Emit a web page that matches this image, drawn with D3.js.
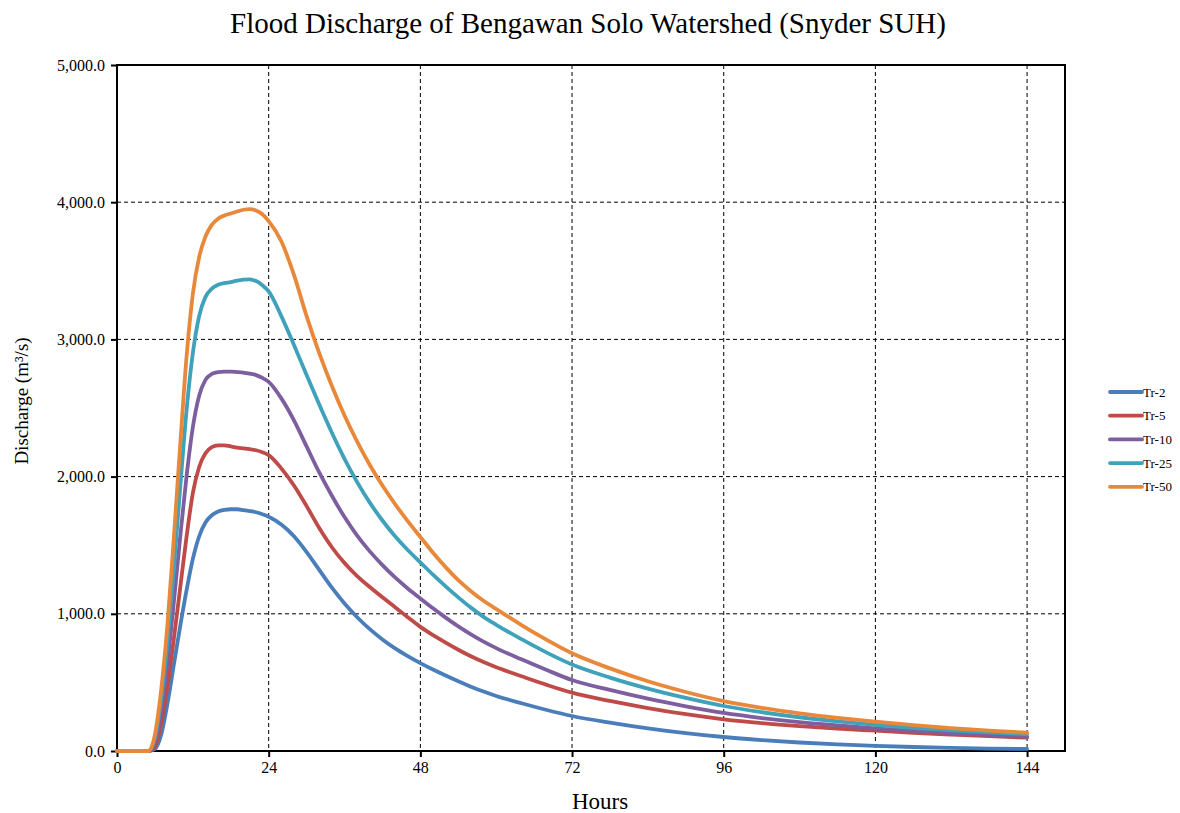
<!DOCTYPE html>
<html>
<head>
<meta charset="utf-8">
<script src="https://cdn.jsdelivr.net/npm/d3@7"></script>
<style>
  html, body { margin: 0; padding: 0; background: #fff; }
  svg { display: block; font-family: "Liberation Serif", "Times New Roman", serif; }
</style>
</head>
<body>
<svg id="chart" width="1180" height="813"></svg>
<script>
// ---- Data ----
const hours = [0,1,2,3,4,5,6,7,8,9,10,11,12,13,14,15,16,17,18,19,20,21,22,23,24,
  26,28,30,32,34,36,38,40,42,44,46,48,50,52,54,56,58,60,
  64,68,72,78,84,90,96,102,108,114,120,126,132,138,144];

const tr2 = [0,0,0,0,0,0,15,120,350,630,910,1170,1400,1565,1665,1718,1745,1757,1762,1762,1756,1749,1740,1726,1708,
  1650,1565,1450,1320,1190,1075,975,888,813,748,692,641,594,550,508,469,433,401,
  348,299,255,207,165,130,102,80,62,48,37,29,23,18,15];

const tr5 = [0,0,0,0,0,0,30,200,480,820,1190,1560,1880,2070,2170,2215,2228,2228,2220,2212,2206,2200,2192,2178,2157,
  2060,1935,1785,1625,1485,1370,1275,1195,1120,1048,975,905,845,790,738,690,648,610,
  545,482,425,365,313,268,231,203,181,163,148,133,120,108,97];

const tr10 = [0,0,0,0,0,0,60,300,650,1090,1560,2000,2360,2590,2705,2748,2762,2765,2765,2762,2758,2750,2740,2720,2690,
  2570,2410,2220,2030,1860,1705,1570,1455,1355,1265,1185,1112,1040,972,908,850,797,750,
  668,590,517,445,381,326,277,240,210,186,165,147,131,117,104];

const tr25 = [0,0,0,0,0,0,90,380,800,1330,1920,2480,2900,3170,3310,3370,3398,3410,3418,3428,3435,3438,3425,3395,3350,
  3170,2960,2740,2525,2320,2130,1960,1810,1680,1565,1465,1375,1285,1200,1120,1045,978,920,
  815,717,630,535,455,387,328,283,246,216,191,169,151,136,122];

const tr50 = [0,0,0,0,0,0,120,450,930,1560,2230,2870,3330,3600,3750,3835,3880,3903,3918,3932,3945,3950,3940,3912,3862,
  3715,3470,3170,2900,2660,2445,2255,2085,1935,1800,1675,1560,1445,1340,1245,1165,1095,1035,
  918,810,712,602,508,430,364,315,275,242,214,189,167,149,133];

const seriesNames = ["Tr-2","Tr-5","Tr-10","Tr-25","Tr-50"];
const seriesValues = [tr2, tr5, tr10, tr25, tr50];
const seriesColors = ["#4a7ebb","#be4b48","#7d5fa0","#3fa2ba","#e8883a"];

const xTicks = [0,24,48,72,96,120,144];
const yTicks = [0,1000,2000,3000,4000,5000];

const titleText = "Flood Discharge of Bengawan Solo Watershed (Snyder SUH)";
const xLabel = "Hours";
const yLabel = "Discharge (m³/s)";

// ---- Layout ----
const svg = d3.select("#chart");
const plot = {left: 117, top: 65, right: 1065, bottom: 751};
const serif = "'Liberation Serif', 'Times New Roman', serif";

const x = d3.scaleLinear().domain([0, 150]).range([plot.left, plot.right]);
const y = d3.scaleLinear().domain([0, 5000]).range([plot.bottom, plot.top]);

// gridlines
const grid = svg.append("g");
grid.selectAll("line.gy").data(yTicks.filter(d => d > 0 && d < 5000)).join("line")
  .attr("x1", plot.left).attr("x2", plot.right)
  .attr("y1", d => y(d)).attr("y2", d => y(d))
  .attr("stroke", "#000").attr("stroke-width", 1).attr("stroke-dasharray", "4,3");
grid.selectAll("line.gx").data(xTicks.filter(d => d > 0)).join("line")
  .attr("x1", d => x(d)).attr("x2", d => x(d))
  .attr("y1", plot.top).attr("y2", plot.bottom)
  .attr("stroke", "#000").attr("stroke-width", 1).attr("stroke-dasharray", "4,3");

// axes
const xAxis = d3.axisBottom(x).tickValues(xTicks).tickSize(6).tickPadding(5).tickFormat(d3.format("d"));
const yAxis = d3.axisLeft(y).tickValues(yTicks).tickSize(6).tickPadding(6).tickFormat(d3.format(",.1f"));

const gx = svg.append("g").attr("transform", `translate(0,${plot.bottom})`).call(xAxis);
const gy = svg.append("g").attr("transform", `translate(${plot.left},0)`).call(yAxis);
[gx, gy].forEach(g => {
  g.attr("font-family", null).attr("font-size", null);
  g.select(".domain").remove();
  g.selectAll(".tick line").attr("stroke", "#000").attr("stroke-width", 2);
  g.selectAll(".tick text").attr("fill", "#000")
    .style("font-size", "16px").style("font-family", serif);
});

// frame
svg.append("rect")
  .attr("x", plot.left).attr("y", plot.top)
  .attr("width", plot.right - plot.left).attr("height", plot.bottom - plot.top)
  .attr("fill", "none").attr("stroke", "#000").attr("stroke-width", 2);

// lines
const line = d3.line()
  .x((d, i) => x(hours[i]))
  .y(d => y(d))
  .curve(d3.curveMonotoneX);

svg.append("g").selectAll("path").data(seriesValues).join("path")
  .attr("d", d => line(d))
  .attr("fill", "none")
  .attr("stroke", (d, i) => seriesColors[i])
  .attr("stroke-width", 3.8)
  .attr("stroke-linejoin", "round")
  .attr("stroke-linecap", "round");

// title
svg.append("text")
  .attr("x", 588).attr("y", 33)
  .attr("text-anchor", "middle")
  .style("font-size", "29px").style("font-family", serif)
  .text(titleText);

// axis labels
svg.append("text")
  .attr("x", 600).attr("y", 809)
  .attr("text-anchor", "middle")
  .style("font-size", "23px").style("font-family", serif)
  .text(xLabel);

svg.append("text")
  .attr("transform", "translate(28,401) rotate(-90)")
  .attr("text-anchor", "middle")
  .style("font-size", "19px").style("font-family", serif)
  .text(yLabel);

// legend
const legend = svg.append("g").attr("transform", "translate(1110,392)");
const items = legend.selectAll("g").data(seriesNames).join("g")
  .attr("transform", (d, i) => `translate(0,${i * 23.7})`);
items.append("line")
  .attr("x1", 0).attr("x2", 32).attr("y1", 0).attr("y2", 0)
  .attr("stroke", (d, i) => seriesColors[i]).attr("stroke-width", 3.8)
  .attr("stroke-linecap", "round");
items.append("text")
  .attr("x", 33).attr("y", 4.5)
  .style("font-size", "13px").style("font-family", serif)
  .text(d => d);
</script>
</body>
</html>
